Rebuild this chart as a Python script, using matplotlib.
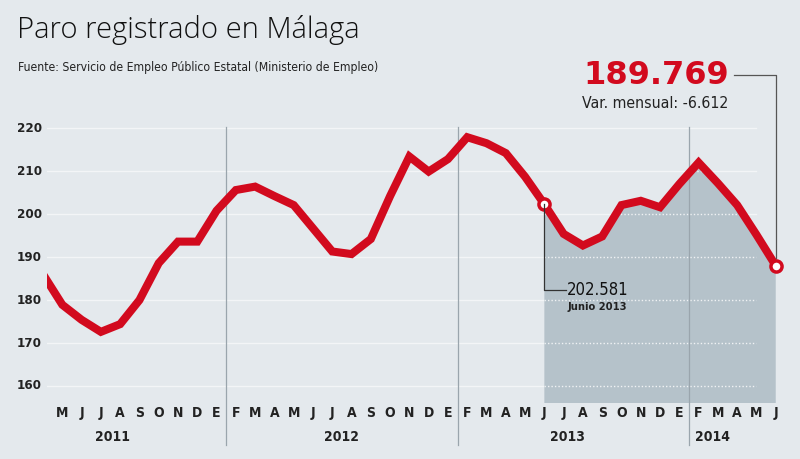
import numpy as np
import matplotlib.pyplot as plt
from matplotlib.patches import Polygon

# paro registrado (miles), abril 2011 - junio 2014
paro = [186.0, 178.9, 175.4, 172.6, 174.4, 180.0, 188.6, 193.6, 193.6,
        200.8, 205.6, 206.4, 204.2, 202.1, 196.7, 191.3, 190.7, 194.2, 204.2, 213.4, 209.9,
        212.8, 217.9, 216.5, 214.2, 208.7, 202.3, 195.4, 192.7, 194.8, 202.1, 203.1, 201.6,
        207.0, 212.0, 207.2, 202.1, 195.2, 188.0]
meses = ['M', 'J', 'J', 'A', 'S', 'O', 'N', 'D', 'E',
         'F', 'M', 'A', 'M', 'J', 'J', 'A', 'S', 'O', 'N', 'D', 'E',
         'F', 'M', 'A', 'M', 'J', 'J', 'A', 'S', 'O', 'N', 'D', 'E',
         'F', 'M', 'A', 'M', 'J']
anios = ['2011', '2012', '2013', '2014']
yticks = [160, 170, 180, 190, 200, 210, 220]

bg = '#e4e9ed'
red = '#d20a1e'
fillc = '#b5c2ca'
cond = dict(family='DejaVu Sans', stretch='condensed')

x = np.arange(-1, len(meses))
y = np.array(paro)

fig = plt.figure(figsize=(8, 4.59), dpi=100, facecolor=bg)
ax = fig.add_axes([46.7 / 800, 0.1216, (790 - 46.7) / 800, 0.6366])
ax.set_facecolor(bg)
ax.set_xlim(-0.81, 37.74)
ax.set_ylim(156, 224)
ax.axis('off')

# grid
for v in yticks:
    ax.plot([-0.81, 36], [v, v], color='#f3f5f7', lw=1, zorder=1)
    ax.text(-0.04, v, str(v), transform=ax.get_yaxis_transform(), ha='left', va='center',
            fontsize=9.5, fontweight='bold', color='#222222', **cond)

# shaded area since June 2013
i0 = 26  # index of Jun 2013 in x/y arrays
xs = x[i0:]
ys = y[i0:]
poly = np.vstack([np.column_stack([xs, ys]), [[xs[-1], 156], [xs[0], 156]]])
patch = Polygon(poly, closed=True, facecolor=fillc, edgecolor='none', zorder=2)
ax.add_patch(patch)
for v in yticks:
    ln, = ax.plot([xs[0], 36], [v, v], color='white', lw=1, ls=(0, (1, 1.5)), zorder=3, alpha=0.8)
    ln.set_clip_path(patch)

# year separators
for s in [8.5, 20.5, 32.5]:
    ax.plot([s, s], [146.3, 220.3], color='#9aa5ad', lw=0.9, zorder=3, clip_on=False)

ax.plot(x, y, color=red, lw=5.8, zorder=4, solid_joinstyle='miter', solid_capstyle='butt')
ax.plot([x[i0], x[-1]], [y[i0], y[-1]], ls='none', marker='o', ms=8, mfc='white',
        mec=red, mew=2.5, zorder=5)

# month / year labels
for i, m in enumerate(meses):
    ax.text(i, 153.7, m, ha='center', va='center', fontsize=10, fontweight='bold',
            color='#222222', clip_on=False, **cond)
for a, p in zip(anios, [2.6, 14.5, 26.2, 33.7]):
    ax.text(p, 148.1, a, ha='center', va='center', fontsize=10, fontweight='bold',
            color='#222222', clip_on=False, **cond)

# June 2013 callout
ax.plot([x[i0], x[i0], x[i0] + 1.1], [y[i0], 182.4, 182.4], color='#333333', lw=0.9,
        zorder=6, clip_on=False)
ax.text(x[i0] + 1.15, 182.3, '202.581', ha='left', va='center', fontsize=12,
        color='#111111', **cond)
ax.text(x[i0] + 1.2, 178.3, 'Junio 2013', ha='left', va='center', fontsize=8,
        fontweight='bold', color='#222222', **cond)

# last value callout
fig.lines.append(plt.Line2D([734 / 800, 776 / 800, 776 / 800],
                            [1 - 75 / 459, 1 - 75 / 459, 1 - 258 / 459],
                            transform=fig.transFigure, color='#555555', lw=0.9))
fig.text(729 / 800, 1 - 75 / 459, '189.769', ha='right', va='center', fontsize=23,
         fontweight='bold', color=red)
fig.text(728 / 800, 1 - 103 / 459, 'Var. mensual: -6.612', ha='right', va='center',
         fontsize=11.3, color='#222222', **cond)

fig.text(17 / 800, 1 - 30 / 459, 'Paro registrado en Málaga', ha='left', va='center',
         fontsize=21, fontweight='light', family=['Open Sans', 'DejaVu Sans'], color='#111111')
fig.text(18 / 800, 1 - 67 / 459, 'Fuente: Servicio de Empleo Público Estatal (Ministerio de Empleo)',
         ha='left', va='center', fontsize=8.7, color='#222222', **cond)

fig.savefig('out.png', dpi=100, facecolor=bg)
